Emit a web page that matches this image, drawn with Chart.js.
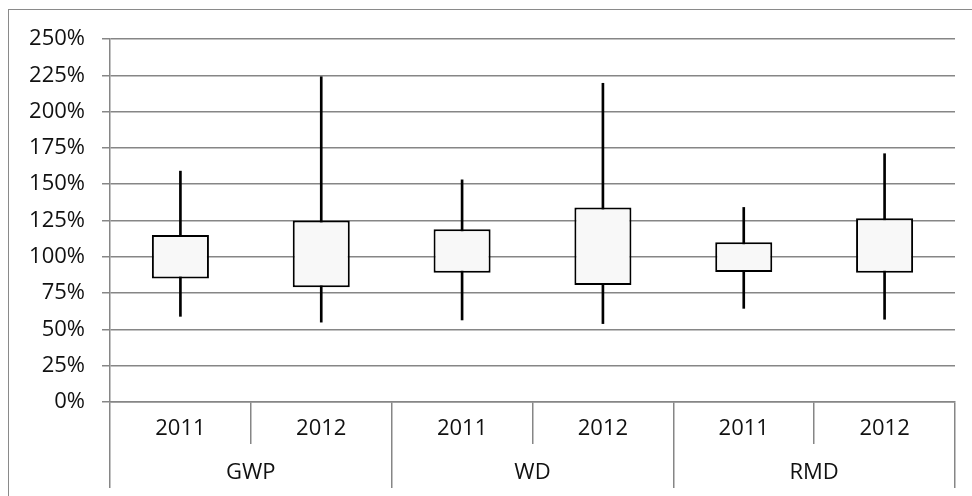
<!DOCTYPE html>
<html>
<head>
<meta charset="utf-8">
<script src="https://cdn.jsdelivr.net/npm/chart.js@4/dist/chart.umd.min.js"></script>
<style>
  html, body { margin: 0; padding: 0; background: #fff; }
  #wrap { position: relative; width: 972px; height: 496px; }
  #frame { position: absolute; left: 8px; top: 9px; right: -4px; bottom: -4px; border-left: 1.5px solid #8a8a8a; border-top: 1.5px solid #8a8a8a; }
  #c { position: absolute; left: 0; top: 0; }
</style>
</head>
<body>
<div id="wrap">
  <div id="frame"></div>
  <canvas id="c" width="972" height="496"></canvas>
</div>
<script>
/* ===== box chart: GWP / WD / RMD, 2011 vs 2012 ===== */
var years = ["2011", "2012", "2011", "2012", "2011", "2012"];
var groups = ["GWP", "WD", "RMD"];
// whisker ends and box edges, in %
var lowVals = [59, 55, 56.5, 54, 64.5, 57];
var q1Vals = [85, 79, 89, 80.5, 89.5, 89];
var q3Vals = [115, 125, 119, 134, 110, 126.5];
var highVals = [159, 224, 153, 219.5, 134, 171];
var yTicks = [0, 25, 50, 75, 100, 125, 150, 175, 200, 225, 250];

var GRID = "#868686";
var FONT = { family: "'Open Sans'", size: 22 };

function pairs(a, b) { return a.map(function (v, i) { return [v, b[i]]; }); }

new Chart(document.getElementById("c"), {
  type: "bar",
  data: {
    labels: years,
    datasets: [
      { label: "box", data: pairs(q1Vals, q3Vals), backgroundColor: "#f8f8f8", borderColor: "#000", borderWidth: 2, borderSkipped: false, categoryPercentage: 1, barPercentage: 0.405, order: 0 },
      { label: "range", data: pairs(lowVals, highVals), backgroundColor: "#000", borderWidth: 0, barThickness: 2, order: 1 }
    ]
  },
  options: {
    responsive: false,
    animation: false,
    events: [],
    layout: { padding: { top: 39, right: 17, bottom: 6, left: 0 } },
    plugins: { legend: { display: false }, tooltip: { enabled: false } },
    datasets: { bar: { grouped: false } },
    scales: {
      y: {
        min: 0, max: 250,
        afterBuildTicks: function (s) { s.ticks = yTicks.map(function (v) { return { value: v }; }); },
        afterFit: function (s) { s.width = 110; },
        ticks: { font: FONT, color: "#111", padding: 17, callback: function (v) { return v + "%"; } },
        grid: { color: GRID, lineWidth: 1.5, tickLength: 8 },
        border: { color: GRID, width: 1.5 }
      },
      x: {
        weight: 1,
        offset: true,
        afterFit: function (s) { s.height = 42; },
        ticks: { font: FONT, color: "#111", padding: -28, maxRotation: 0 },
        grid: { offset: true, drawOnChartArea: false, color: GRID, lineWidth: 1.5, tickLength: 42 },
        border: { color: GRID, width: 1.5 }
      },
      x2: {
        type: "category",
        position: "bottom",
        weight: 2,
        labels: groups,
        offset: true,
        afterFit: function (s) { s.height = 46; },
        ticks: { font: FONT, color: "#111", padding: -28, maxRotation: 0 },
        grid: { offset: true, drawOnChartArea: false, color: GRID, lineWidth: 1.5, tickLength: 44 },
        border: { display: false }
      }
    }
  }
});
</script>
</body>
</html>
